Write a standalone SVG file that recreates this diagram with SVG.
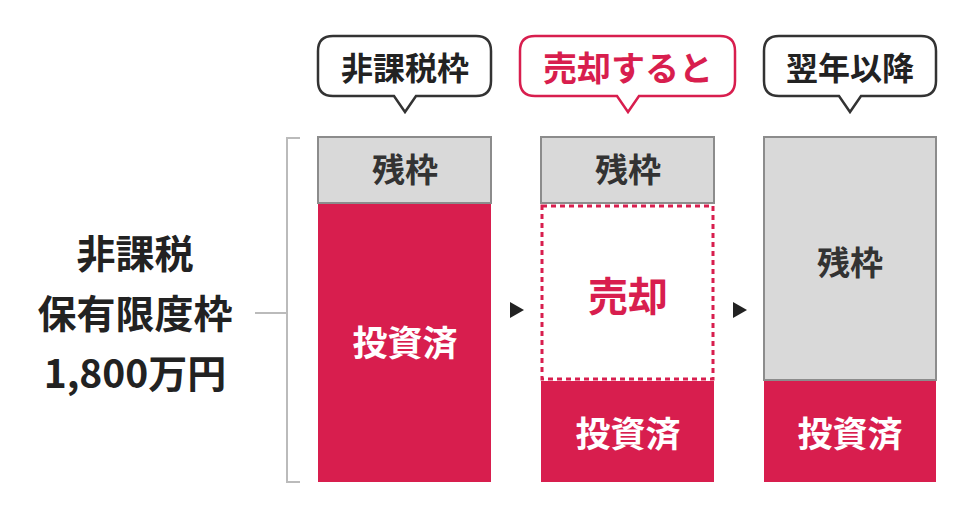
<svg xmlns="http://www.w3.org/2000/svg" width="969" height="516" viewBox="0 0 969 516">
<style>
text{font-family:"Noto Sans CJK JP","Noto Sans",sans-serif;font-weight:700;text-anchor:middle;dominant-baseline:central}
.g{fill:#d9d9d9;stroke:#8c8c8c;stroke-width:2}
.r{fill:#d81e4e}
.w{fill:#fff;font-size:35px}
.k{fill:#333;font-size:33px}
.t{fill:#222;font-size:32px}
.L{fill:#222;font-size:39px}
.b{fill:#fff;stroke:#333;stroke-width:2.5}
</style>
<rect width="969" height="516" fill="#fff"/>
<g id="label">
<text x="135" y="251" class="L">非課税</text>
<text x="135" y="311" class="L">保有限度枠</text>
<text x="135" y="371" class="L">1,800万円</text>
</g>
<g id="connectors" fill="none" stroke="#bbb" stroke-width="2">
<path d="M300 138H287V482H300M255 313H287"/>
<path d="M510 302L524 310L510 318Z" fill="#222" stroke="none"/>
<path d="M733 302L747 310L733 318Z" fill="#222" stroke="none"/>
</g>
<g id="col1">
<rect x="318" y="137" width="173" height="66" class="g"/>
<text x="405" y="168" class="k">残枠</text>
<rect x="318" y="204" width="173" height="278" class="r"/>
<text x="405" y="340" class="w">投資済</text>
</g>
<g id="col2">
<rect x="541" y="137" width="173" height="66" class="g"/>
<text x="628" y="168" class="k">残枠</text>
<rect x="542" y="206" width="171" height="173" fill="#fff" stroke="#d81e4e" stroke-width="3" stroke-dasharray="5 4"/>
<text x="628" y="294" class="k" style="fill:#d81e4e;font-size:40px">売却</text>
<rect x="541" y="381" width="173" height="101" class="r"/>
<text x="628" y="431" class="w">投資済</text>
</g>
<g id="col3">
<rect x="764" y="137" width="172" height="243" class="g"/>
<text x="850" y="261" class="k">残枠</text>
<rect x="764" y="381" width="172" height="101" class="r"/>
<text x="850" y="431" class="w">投資済</text>
</g>
<g id="bubble1">
<path d="M333 36H476Q491 36 491 51V81Q491 96 476 96H416L405 112L394 96H333Q318 96 318 81V51Q318 36 333 36Z" class="b"/>
<text x="405" y="66" class="t">非課税枠</text>
</g>
<g id="bubble2">
<path d="M535 36H720Q735 36 735 51V81Q735 96 720 96H639L628 112L617 96H535Q520 96 520 81V51Q520 36 535 36Z" class="b" style="stroke:#d81e4e"/>
<text x="628" y="66" class="t" style="fill:#d81e4e;font-size:34px">売却すると</text>
</g>
<g id="bubble3">
<path d="M779 36H921Q936 36 936 51V81Q936 96 921 96H861L850 112L839 96H779Q764 96 764 81V51Q764 36 779 36Z" class="b"/>
<text x="850" y="66" class="t">翌年以降</text>
</g>
</svg>
